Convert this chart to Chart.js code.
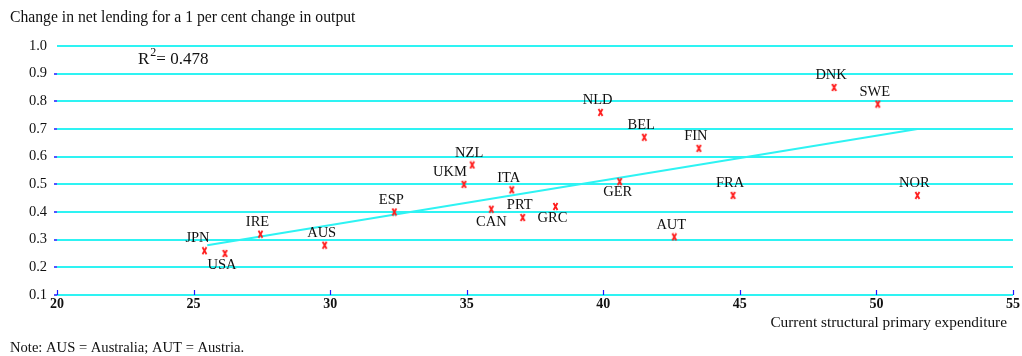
<!DOCTYPE html>
<html>
<head>
<meta charset="utf-8">
<script src="https://cdn.jsdelivr.net/npm/chart.js@4.4.0/dist/chart.umd.min.js"></script>
<style>
  html, body { margin: 0; padding: 0; background: #fff; }
  #wrap { position: relative; width: 1022px; height: 356px; }
</style>
</head>
<body>
<div id="wrap"><canvas id="scatter" width="1022" height="356"></canvas></div>
<script>
// Country codes with structural expenditure (x) and net lending response (y)
const countries = ['JPN', 'USA', 'IRE', 'AUS', 'ESP', 'UKM', 'NZL', 'CAN', 'ITA', 'PRT',
                   'GRC', 'NLD', 'GER', 'BEL', 'AUT', 'FIN', 'FRA', 'DNK', 'SWE', 'NOR'];
const expenditure = [25.4, 26.15, 27.45, 29.8, 32.35, 34.9, 35.2, 35.9, 36.65, 37.05,
                     38.25, 39.9, 40.6, 41.5, 42.6, 43.5, 44.75, 48.45, 50.05, 51.5];
const lendingChange = [0.26, 0.25, 0.32, 0.28, 0.40, 0.50, 0.57, 0.41, 0.48, 0.38,
                       0.42, 0.76, 0.51, 0.67, 0.31, 0.63, 0.46, 0.85, 0.79, 0.46];
// fitted line endpoints
const trendX = [25.5, 51.5];
const trendY = [0.28, 0.70];
const rSquared = '0.478';

const titleText = 'Change in net lending for a 1 per cent change in output';
const xTitleText = 'Current structural primary expenditure';
const noteText = 'Note: AUS = Australia; AUT = Austria.';

// label placement relative to the marker (default: just above)
const defaultOffset = { dx: -3, dy: -12 };
const labelOffsets = {
    JPN: { dx: -7, dy: -13 },
    UKM: { dx: -14, dy: -12 },
    USA: { dx: -3, dy: 12 },
    CAN: { dx: 0, dy: 13 },
    GRC: { dx: -3, dy: 12 },
    GER: { dx: -2, dy: 11 }
};

const CYAN = '#2ef3f3';
const BLUE = '#1a1aff';
const SERIF = '"Liberation Serif", "Times New Roman", serif';

// small red "x" used as the marker
function makeCross() {
    const c = document.createElement('canvas');
    c.width = 7; c.height = 9;
    const g = c.getContext('2d');
    g.strokeStyle = '#ff1a1a';
    g.lineWidth = 1.8;
    g.beginPath();
    g.moveTo(1.5, 1); g.lineTo(5.5, 8);
    g.moveTo(5.5, 1); g.lineTo(1.5, 8);
    g.stroke();
    return c;
}

const points = expenditure.map((x, i) => ({ x: x, y: lendingChange[i] }));
const trend = trendX.map((x, i) => ({ x: x, y: trendY[i] }));

const textPlugin = {
    id: 'chartText',
    beforeDraw(chart) {
        const ctx = chart.ctx;
        ctx.save();
        ctx.fillStyle = '#fff';
        ctx.fillRect(0, 0, chart.width, chart.height);
        ctx.restore();
    },
    afterDraw(chart) {
        const ctx = chart.ctx;
        const xs = chart.scales.x, ys = chart.scales.y;
        ctx.save();

        // blue tick marks rising from the x axis
        ctx.strokeStyle = BLUE;
        ctx.lineWidth = 1.2;
        xs.ticks.forEach(t => {
            const px = Math.round(xs.getPixelForValue(t.value)) + 0.5;
            ctx.beginPath();
            ctx.moveTo(px, ys.bottom);
            ctx.lineTo(px, ys.bottom - 5);
            ctx.stroke();
        });

        // country labels
        ctx.fillStyle = '#111';
        ctx.font = '14.5px ' + SERIF;
        ctx.textAlign = 'center';
        ctx.textBaseline = 'middle';
        const meta = chart.getDatasetMeta(0);
        meta.data.forEach((pt, i) => {
            const off = labelOffsets[countries[i]] || defaultOffset;
            ctx.fillText(countries[i], pt.x + off.dx, pt.y + off.dy);
        });

        // R squared
        ctx.textAlign = 'left';
        ctx.font = '17px ' + SERIF;
        let rx = 138;
        ctx.fillText('R', rx, 60);
        rx += ctx.measureText('R').width + 1;
        ctx.font = '12px ' + SERIF;
        ctx.fillText('2', rx, 53);
        rx += ctx.measureText('2').width;
        ctx.font = '17px ' + SERIF;
        ctx.fillText('= ' + rSquared, rx, 60);

        // titles and note
        ctx.font = '15.7px ' + SERIF;
        ctx.fillText(titleText, 10, 18);
        ctx.font = '15.3px ' + SERIF;
        ctx.textAlign = 'right';
        ctx.fillText(xTitleText, 1007, 323);
        ctx.textAlign = 'left';
        ctx.font = '14.6px ' + SERIF;
        ctx.fillText(noteText, 10, 348);
        ctx.restore();
    }
};

new Chart(document.getElementById('scatter'), {
    type: 'scatter',
    data: {
        datasets: [{
            data: points,
            pointStyle: makeCross(),
            pointRadius: 4,
            order: 0
        }, {
            type: 'line',
            data: trend,
            borderColor: CYAN,
            borderWidth: 2,
            pointRadius: 0,
            fill: false,
            order: 1
        }]
    },
    options: {
        responsive: false,
        animation: false,
        layout: { padding: { top: 46, right: 9, left: 0, bottom: 0 } },
        plugins: { legend: { display: false }, tooltip: { enabled: false } },
        scales: {
            x: {
                type: 'linear',
                min: 20, max: 55,
                ticks: {
                    stepSize: 5,
                    padding: 1,
                    color: '#111',
                    font: { family: SERIF, size: 14, weight: 'bold' }
                },
                grid: { display: false, drawTicks: false },
                border: { display: false },
                afterFit: s => { s.height = 61; }
            },
            y: {
                min: 0.1, max: 1.0,
                ticks: {
                    stepSize: 0.1,
                    padding: 7,
                    color: '#111',
                    font: { family: SERIF, size: 14.5 },
                    callback: v => v.toFixed(1)
                },
                grid: {
                    color: CYAN,
                    lineWidth: 2,
                    tickLength: 3,
                    tickWidth: 1.5,
                    tickColor: c => (c.tick && c.tick.value >= 0.999 ? 'rgba(0,0,0,0)' : BLUE)
                },
                border: { display: false },
                afterFit: s => { s.width = 57; }
            }
        }
    },
    plugins: [textPlugin]
});
</script>
</body>
</html>
